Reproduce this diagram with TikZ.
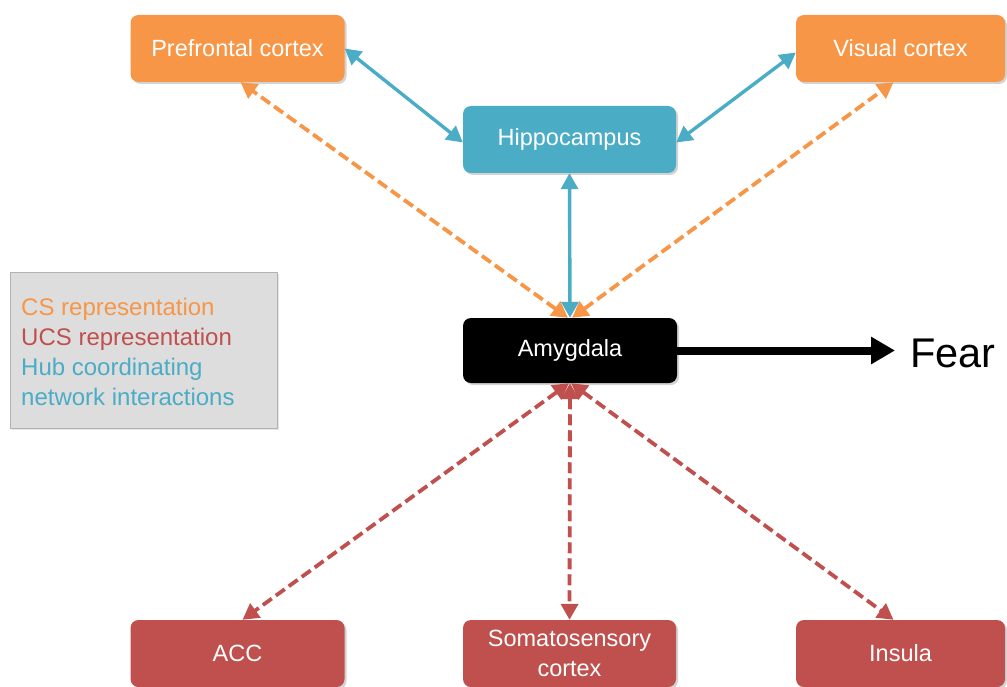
\documentclass[tikz,border=0pt]{standalone}
\usepackage{fontspec}
\setmainfont{Liberation Sans}
\usetikzlibrary{arrows.meta,shadows}
\definecolor{cOrange}{HTML}{F79646}
\definecolor{cBlue}{HTML}{4BACC6}
\definecolor{cRed}{HTML}{C0504D}
\definecolor{cGray}{HTML}{DDDDDD}
\tikzset{
  box/.style={rounded corners=8pt, minimum width=#1, minimum height=67pt, inner sep=0pt,
    text=white, align=center, font=\fontsize{23.5}{30}\selectfont,
    drop shadow={opacity=0.35, shadow xshift=2pt, shadow yshift=-2pt}},
  obox/.style={box=214pt, fill=cOrange},
  rbox/.style={box=214pt, fill=cRed},
  bbox/.style={box=213pt, fill=cBlue},
  twoway/.style={>={Triangle[length=16pt, width=17pt]}, <->},
  bluelink/.style={draw=cBlue, line width=3.4pt, twoway},
  orangelink/.style={draw=cOrange, line width=3.8pt, dash pattern=on 11pt off 5pt, twoway},
  redlink/.style={draw=cRed, line width=3.8pt, dash pattern=on 11pt off 5pt, twoway},
}
\begin{document}
\begin{tikzpicture}[x=1pt, y=-1pt]
\useasboundingbox (0,0) rectangle (1007,687);
% legend
\node[fill=cGray, draw=gray!60, line width=0.6pt, minimum width=267pt, minimum height=156pt, inner sep=0pt,
  drop shadow={opacity=0.2, shadow xshift=2pt, shadow yshift=-2pt}] (leg) at (143.5,350) {};
\node[anchor=base west, inner sep=0pt, align=left, font=\fontsize{24}{30}\selectfont] (legtxt) at (21,405)
  {\textcolor{cOrange}{CS representation}\\
   \textcolor{cRed}{UCS representation}\\
   \textcolor{cBlue}{Hub coordinating}\\
   \textcolor{cBlue}{network interactions}};
% nodes
\node[obox] (pf) at (237.5,48.5) {Prefrontal cortex};
\node[obox, minimum width=209pt] (vc) at (900.5,48.5) {Visual cortex};
\node[bbox] (hip) at (569.5,139.5) {Hippocampus};
\node[box=214pt, minimum height=65pt, fill=black] (amy) at (570,350.5) {Amygdala};
\node[rbox] (acc) at (237.5,653.5) {ACC};
\node[rbox, minimum width=213pt] (som) at (569.5,653.5) {Somatosensory\\cortex};
\node[rbox, minimum width=209pt] (ins) at (900.5,653.5) {Insula};
\node[anchor=west, inner sep=0pt, font=\fontsize{41.5}{44}\selectfont] (fear) at (910,353) {Fear};
\coordinate (fearend) at (895,350.5);
% connectors
\draw[bluelink] (pf.east) -- ([yshift=-3pt]hip.west);
\draw[bluelink] ([yshift=-4pt]vc.west) -- ([yshift=-3pt]hip.east);
\draw[bluelink] (hip.south) -- (amy.north);
\draw[orangelink] ([xshift=-2pt]amy.north) -- ([xshift=3pt]pf.south);
\draw[orangelink] ([xshift=2pt]amy.north) -- ([xshift=-7pt]vc.south);
\draw[redlink] ([xshift=-1pt]amy.south) -- ([xshift=5pt]acc.north);
\draw[redlink] (amy.south) -- (som.north);
\draw[redlink] ([xshift=1pt]amy.south) -- ([xshift=-7pt]ins.north);
\draw[line width=8pt, -{Triangle[length=24pt, width=26pt]}] (amy.east) -- (fearend);
\end{tikzpicture}
\end{document}
